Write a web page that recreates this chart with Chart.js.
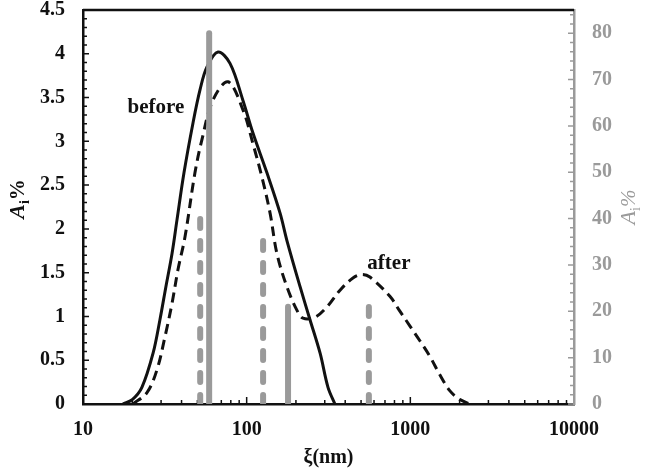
<!DOCTYPE html>
<html>
<head>
<meta charset="utf-8">
<script src="https://cdn.jsdelivr.net/npm/chart.js@4.4.1/dist/chart.umd.min.js"></script>
<style>body{margin:0;background:#fff}</style>
</head>
<body>
<canvas id="sizeChart" width="650" height="470"></canvas>
<script>
// size distribution, before / after (left axis, A_i %)
var beforeX = [17.5, 20, 22.9, 26.8, 29.5, 32.1, 35.0, 37.5, 41.4, 47.0, 51.9, 57.2, 66.8, 79.1, 94.8, 109, 133, 160, 176, 212, 244, 281, 314, 346]
var beforeY = [0, 0.05, 0.19, 0.58, 0.96, 1.34, 1.72, 2.10, 2.64, 3.21, 3.59, 3.85, 4.02, 3.89, 3.47, 3.10, 2.64, 2.18, 1.87, 1.34, 0.96, 0.58, 0.19, 0]
var afterX = [20.2, 24.6, 28.3, 31.7, 35.0, 38.0, 42.0, 48.3, 53.3, 62.2, 76.9, 94.9, 109, 124, 139, 153, 176, 203, 221, 261, 310, 372, 446, 506, 566, 750, 863, 995, 1146, 1320, 1518, 1746, 2010, 2312]
var afterY = [0, 0.13, 0.39, 0.77, 1.15, 1.53, 1.91, 2.64, 3.02, 3.47, 3.68, 3.36, 2.98, 2.59, 2.18, 1.72, 1.34, 1.07, 0.98, 0.99, 1.11, 1.30, 1.44, 1.48, 1.45, 1.23, 1.06, 0.89, 0.72, 0.54, 0.33, 0.15, 0.05, 0]

// number fraction bars (right axis)
var solidBarX = [59, 179]
var solidBarY = [80, 21]
var dashedBarX = [52, 126, 558]
var dashedBarY = [41, 36, 22]

var xTickLabels = [10, 100, 1000, 10000]

var serif = '"Liberation Serif", "Times New Roman", serif'
var grey = '#9a9a9a'

function toPoints(xs, ys) {
  return xs.map(function (x, i) { return { x: x, y: ys[i] } })
}

var datasets = []
solidBarX.forEach(function (x, i) {
  datasets.push({
    data: [{ x: x, y: 0 }, { x: x, y: solidBarY[i] }],
    yAxisID: 'y2', borderColor: grey, borderWidth: 6, borderCapStyle: 'round',
    pointRadius: 0, fill: false
  })
})
dashedBarX.forEach(function (x, i) {
  datasets.push({
    data: [{ x: x, y: 0 }, { x: x, y: dashedBarY[i] }],
    yAxisID: 'y2', borderColor: grey, borderWidth: 6, borderCapStyle: 'round',
    borderDash: [9, 13], pointRadius: 0, fill: false
  })
})
datasets.push({
  data: toPoints(beforeX, beforeY), yAxisID: 'y', borderColor: '#111',
  borderWidth: 3, pointRadius: 0, tension: 0.35, fill: false
})
datasets.push({
  data: toPoints(afterX, afterY), yAxisID: 'y', borderColor: '#111',
  borderWidth: 3, borderDash: [10, 6], pointRadius: 0, tension: 0.35, fill: false
})

function isDecade(v) {
  var l = Math.log10(v)
  return Math.abs(l - Math.round(l)) < 1e-9
}

// inward tick marks, top frame line, y titles and curve labels
var decorPlugin = {
  id: 'decor',
  beforeDatasetsDraw: function (chart) {
    var ctx = chart.ctx, a = chart.chartArea
    var sx = chart.scales.x, sy = chart.scales.y, sy2 = chart.scales.y2
    ctx.save()
    ctx.lineWidth = 1.5
    ctx.strokeStyle = '#111'
    ctx.beginPath()
    for (var d = 10; d < 10000; d *= 10) {
      for (var k = 1; k <= 9; k++) {
        var px = sx.getPixelForValue(k * d)
        var len = k === 1 ? 7 : 4
        ctx.moveTo(px, a.bottom); ctx.lineTo(px, a.bottom - len)
      }
    }
    for (var i = 0; i <= 45; i++) {
      var py = sy.getPixelForValue(i / 10)
      ctx.moveTo(a.left, py); ctx.lineTo(a.left + (i % 5 === 0 ? 6 : 4), py)
    }
    ctx.stroke()
    ctx.strokeStyle = grey
    ctx.beginPath()
    for (var j = 0; j <= 84; j += 2) {
      var py2 = sy2.getPixelForValue(j)
      ctx.moveTo(a.right, py2); ctx.lineTo(a.right - (j % 10 === 0 ? 6 : 4), py2)
    }
    ctx.stroke()
    ctx.strokeStyle = '#111'
    ctx.lineWidth = 2.5
    ctx.beginPath()
    ctx.moveTo(a.left, a.top); ctx.lineTo(a.right, a.top)
    ctx.stroke()
    ctx.restore()
  },
  afterDraw: function (chart) {
    var ctx = chart.ctx
    var sx = chart.scales.x, sy = chart.scales.y
    drawAi(ctx, 17, 199, '#111', true)
    drawAi(ctx, 628, 207, grey, false)
    ctx.save()
    ctx.fillStyle = '#111'
    ctx.font = 'bold 21px ' + serif
    ctx.textAlign = 'center'
    ctx.textBaseline = 'middle'
    ctx.fillText('before', sx.getPixelForValue(27.9), sy.getPixelForValue(3.38))
    ctx.fillText('after', sx.getPixelForValue(740), sy.getPixelForValue(1.6))
    ctx.restore()
  }
}

function drawAi(ctx, x, y, color, bold) {
  var w = bold ? 'bold ' : ''
  var parts = [
    { t: 'A', f: 'italic ' + w + '22px ' + serif, dy: 0 },
    { t: 'i', f: w + '14px ' + serif, dy: 5 },
    { t: '%', f: (bold ? '' : 'italic ') + w + '21px ' + serif, dy: 0 }
  ]
  ctx.save()
  ctx.translate(x, y)
  ctx.rotate(-Math.PI / 2)
  ctx.fillStyle = color
  ctx.textBaseline = 'alphabetic'
  var total = 0
  parts.forEach(function (p) { ctx.font = p.f; p.w = ctx.measureText(p.t).width; total += p.w })
  var cx = -total / 2
  parts.forEach(function (p) {
    ctx.font = p.f
    ctx.fillText(p.t, cx, 7 + p.dy)
    cx += p.w
  })
  ctx.restore()
}

var ctx = document.getElementById('sizeChart').getContext('2d')
new Chart(ctx, {
  type: 'line',
  data: { datasets: datasets },
  plugins: [decorPlugin],
  options: {
    responsive: false,
    animation: false,
    devicePixelRatio: 1,
    layout: { padding: { top: 10, left: 0, right: 0, bottom: 0 } },
    plugins: { legend: { display: false }, tooltip: { enabled: false } },
    scales: {
      x: {
        type: 'logarithmic', min: 10, max: 10000,
        grid: { display: false, drawTicks: false },
        border: { color: '#111', width: 2.5 },
        ticks: {
          autoSkip: false, maxRotation: 0, padding: 14, color: '#111',
          font: { family: serif, size: 20, weight: 'bold' },
          callback: function (v) { return isDecade(v) && xTickLabels.indexOf(Math.round(v)) >= 0 ? String(Math.round(v)) : '' }
        },
        title: { display: true, text: 'ξ(nm)', color: '#111', padding: 0, font: { family: serif, size: 20, weight: 'bold' } },
        afterFit: function (s) { s.height = 66; s.paddingLeft = 0; s.paddingRight = 0 }
      },
      y: {
        position: 'left', min: 0, max: 4.5,
        grid: { display: false, drawTicks: false },
        border: { color: '#111', width: 2.5 },
        ticks: {
          stepSize: 0.5, padding: 18, color: '#111', font: { family: serif, size: 20, weight: 'bold' },
          callback: function (v) { return String(Math.round(v * 10) / 10) }
        },
        afterFit: function (s) { s.width = 83; s.paddingTop = 0; s.paddingBottom = 0 }
      },
      y2: {
        position: 'right', min: 0, max: 85,
        grid: { display: false, drawTicks: false },
        border: { color: grey, width: 2.5 },
        ticks: { stepSize: 10, includeBounds: false, padding: 18, color: grey, font: { family: serif, size: 20, weight: 'bold' } },
        afterFit: function (s) { s.width = 76; s.paddingTop = 0; s.paddingBottom = 0 }
      }
    }
  }
})
</script>
</body>
</html>
